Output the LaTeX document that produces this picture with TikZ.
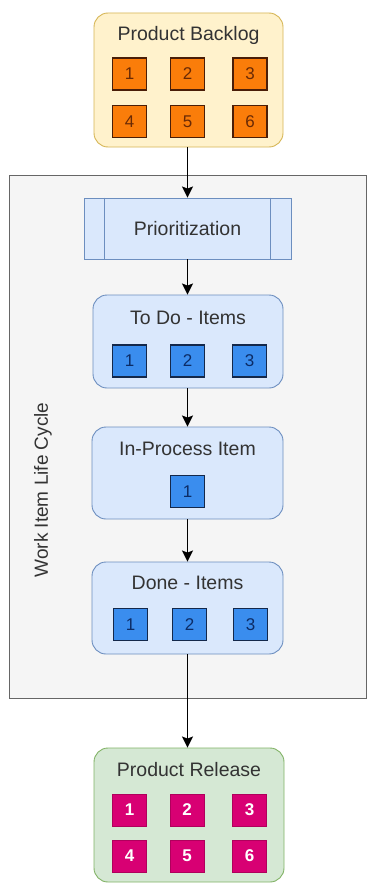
\documentclass[tikz,border=0pt]{standalone}
\usepackage{fontspec}
\setmainfont{Liberation Sans}
\usetikzlibrary{arrows.meta,calc}
\definecolor{bgfill}{HTML}{F5F5F5}
\definecolor{bgline}{HTML}{666666}
\definecolor{txt}{HTML}{333333}
\definecolor{yfill}{HTML}{FFF2CC}
\definecolor{yline}{HTML}{D6B656}
\definecolor{bfill}{HTML}{DAE8FC}
\definecolor{bline}{HTML}{6C8EBF}
\definecolor{gfill}{HTML}{D5E8D4}
\definecolor{gline}{HTML}{82B366}
\definecolor{ofill}{HTML}{FA7D0A}
\definecolor{oline}{HTML}{4A1E08}
\definecolor{otxt}{HTML}{6A2A05}
\definecolor{sfill}{HTML}{3A8DEE}
\definecolor{sline}{HTML}{14284A}
\definecolor{stxt}{HTML}{0C2C66}
\definecolor{mfill}{HTML}{D80073}
\definecolor{mline}{HTML}{B0005C}
\tikzset{
  titletext/.style={font=\fontsize{19.5}{22}\selectfont, text=txt, inner sep=0},
  group/.style={rounded corners=14pt, line width=0.9pt, inner sep=0},
  sq/.style={minimum width=34pt, minimum height=32pt, inner sep=0, line width=1.3pt, font=\fontsize{17}{17}\selectfont},
  osq/.style={sq, draw=oline, fill=ofill, text=otxt},
  bsq/.style={sq, draw=sline, fill=sfill, text=stxt},
  msq/.style={sq, draw=mline, fill=mfill, text=white, line width=0.8pt, font=\fontsize{17}{17}\selectfont\bfseries},
  flow/.style={line width=1.8pt, draw=black, -{Stealth[length=11pt,width=11pt,inset=2pt]}},
}
\begin{document}
\begin{tikzpicture}[x=1pt,y=-1pt]
\useasboundingbox (0,0) rectangle (368,883);
\fill[white] (0,0) rectangle (368,883);

% container
\node[draw=bgline, fill=bgfill, line width=1pt, minimum width=357pt, minimum height=523pt, inner sep=0] (life) at (187.5,436.5) {};
\node[rotate=90, font=\fontsize{19}{22}\selectfont, text=txt, inner sep=0] (lifelabel) at (43,490) {Work Item Life Cycle};

% product backlog
\node[group, draw=yline, fill=yfill, minimum width=189pt, minimum height=134pt] (backlog) at (188.5,80) {};
\node[titletext] (backlogt) at (188.5,35) {Product Backlog};
\node[osq] (b1) at (129.5,74) {1};
\node[osq] (b2) at (187.5,74) {2};
\node[osq] (b3) at (250,74) {3};
\node[osq] (b4) at (129.5,121.5) {4};
\node[osq] (b5) at (187.5,121.5) {5};
\node[osq] (b6) at (250,121.5) {6};

% prioritization
\node[draw=bline, fill=bfill, line width=0.9pt, minimum width=207pt, minimum height=61pt, inner sep=0] (prio) at (187.5,228.5) {};
\draw[bline, line width=0.9pt] ($(prio.north west)+(21,0)$) -- ($(prio.south west)+(21,0)$);
\draw[bline, line width=0.9pt] ($(prio.north east)+(-21,0)$) -- ($(prio.south east)+(-21,0)$);
\node[titletext] (priot) at (187.5,229) {Prioritization};

% to do
\node[group, draw=bline, fill=bfill, minimum width=190pt, minimum height=93pt] (todo) at (188,341.5) {};
\node[titletext] (todot) at (188,318) {To Do - Items};
\node[bsq] (t1) at (129.5,361) {1};
\node[bsq] (t2) at (187.5,361) {2};
\node[bsq] (t3) at (249.5,361) {3};

% in-process
\node[group, draw=bline, fill=bfill, minimum width=191pt, minimum height=92pt] (inproc) at (187.5,473) {};
\node[titletext] (inproct) at (187.5,449) {In-Process Item};
\node[bsq] (p1) at (187.5,491.5) {1};

% done
\node[group, draw=bline, fill=bfill, minimum width=191pt, minimum height=92pt] (done) at (187.5,608) {};
\node[titletext] (donet) at (187.5,583) {Done - Items};
\node[bsq] (d1) at (130.5,624.5) {1};
\node[bsq] (d2) at (189.5,624.5) {2};
\node[bsq] (d3) at (250.5,624.5) {3};

% product release
\node[group, draw=gline, fill=gfill, minimum width=190pt, minimum height=134pt] (release) at (189,815) {};
\node[titletext] (releaset) at (189,770) {Product Release};
\node[msq] (r1) at (129.5,810) {1};
\node[msq] (r2) at (187,810) {2};
\node[msq] (r3) at (249.5,810) {3};
\node[msq] (r4) at (129.5,856) {4};
\node[msq] (r5) at (187,856) {5};
\node[msq] (r6) at (249.5,856) {6};

% connectors
\draw[flow] (backlog.south -| prio.north) -- (prio.north);
\draw[flow] (prio.south) -- (prio.south |- todo.north);
\draw[flow] (todo.south -| inproc.north) -- (inproc.north);
\draw[flow] (inproc.south) -- (done.north);
\draw[flow] (done.south) -- (done.south |- release.north);
\end{tikzpicture}
\end{document}
